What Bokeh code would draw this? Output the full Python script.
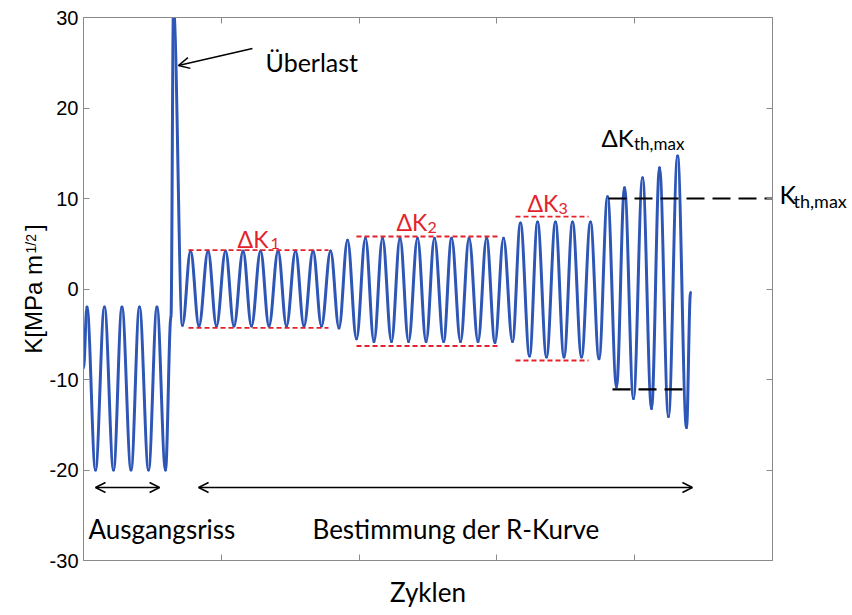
import math
from bokeh.plotting import figure
from bokeh.models import (Range1d, LinearAxis, FixedTicker, Label, Arrow, OpenHead,
                          ColumnDataSource)
from bokeh.embed import file_html
from bokeh.resources import INLINE

# ---------------- data ----------------
# extrema of the loading signal: x in tick units ("Zyklen"), y = K [MPa m^1/2]
ext_x = [0.000, 0.025, 0.087, 0.152, 0.218, 0.279, 0.345, 0.406, 0.472, 0.533, 0.595,
         0.635, 0.653, 0.718,
         0.777, 0.838, 0.904, 0.965, 1.031, 1.092, 1.158, 1.219, 1.285, 1.346, 1.412,
         1.473, 1.539, 1.600, 1.666, 1.727, 1.793, 1.854,
         1.916, 1.981, 2.046, 2.108, 2.170, 2.235, 2.297, 2.359, 2.424, 2.486, 2.547,
         2.613, 2.671, 2.736, 2.798, 2.863, 2.925, 2.986, 3.048, 3.113,
         3.171, 3.237, 3.295, 3.360, 3.425, 3.487, 3.549, 3.614, 3.679, 3.741,
         3.803, 3.868, 3.926, 3.991, 4.057, 4.122, 4.180, 4.245, 4.311, 4.376, 4.405]
ext_y = [-8.8, -2.0, -20.0, -2.0, -20.0, -2.0, -20.0, -2.0, -20.0, -2.0, -20.0,
         -3.0, 31.0, -4.0,
         4.2, -4.1, 4.2, -4.1, 4.2, -4.1, 4.2, -4.1, 4.2, -4.1, 4.2,
         -4.1, 4.2, -4.1, 4.2, -4.1, 4.2, -4.3,
         5.4, -5.5, 5.6, -5.8, 5.6, -5.8, 5.6, -5.8, 5.6, -5.8, 5.6,
         -5.8, 5.6, -5.8, 5.6, -5.8, 5.6, -5.9, 5.6, -5.8,
         7.3, -7.4, 7.4, -7.5, 7.4, -7.5, 7.4, -7.5, 7.4, -7.7,
         10.2, -10.8, 11.2, -12.1, 12.3, -13.2, 13.4, -14.1, 14.7, -15.3, -0.4]

# ΔK range markers (red dashed)
dk_labels = ["1", "2", "3"]
dk_upper = [4.3, 5.8, 8.0]
dk_lower = [-4.3, -6.3, -7.9]
dk_x0 = [0.762, 1.981, 3.135]
dk_x1 = [1.778, 3.004, 3.665]

# K_th,max markers (black dashed)
kth_upper = 10.0
kth_lower = -11.1
kth_up_x = [3.810, 5.03]
kth_lo_x = [3.839, 4.347]

y_ticks = [-30, -20, -10, 0, 10, 20, 30]
y_tick_labels = ["-30", "-20", "-10", "0", "10", "20", "30"]
x_ticks = [1, 2, 3, 4]

BLUE = "#2d56b6"
RED = "#e3232b"
GRAY = "#8a8a8a"
CAL = "Lato"
ARIAL = "Liberation Sans"

W, H = 852, 615
p = figure(width=W, height=H, x_range=Range1d(0, 5), y_range=Range1d(-30, 30),
           output_backend="svg", toolbar_location=None)
p.min_border_left = 83
p.min_border_right = 80
p.min_border_top = 17
p.min_border_bottom = 55
p.grid.visible = False
p.outline_line_color = GRAY
p.background_fill_color = "white"
p.border_fill_color = "white"

# axes
ya = p.yaxis[0]
ya.ticker = FixedTicker(ticks=y_ticks)
ya.major_label_overrides = {t: l for t, l in zip(y_ticks, y_tick_labels)}
ya.major_label_text_font = ARIAL
ya.major_label_text_font_size = "20px"
ya.major_label_text_color = "black"
ya.major_label_standoff = 5
# room is left (en spaces) for the superscript, drawn as its own label below
ya.axis_label = "K[MPa m\u2002\u2002]"
ya.axis_label_text_font = ARIAL
ya.axis_label_text_font_size = "24px"
ya.axis_label_text_font_style = "normal"
ya.axis_label_text_color = "black"
ya.axis_label_standoff = 0

xa = p.xaxis[0]
xa.ticker = FixedTicker(ticks=x_ticks)
xa.major_label_overrides = {t: "" for t in x_ticks}
xa.major_label_standoff = 0
xa.axis_label = "Zyklen"
xa.axis_label_text_font = CAL
xa.axis_label_text_font_size = "26px"
xa.axis_label_text_font_style = "normal"
xa.axis_label_text_color = "black"
xa.axis_label_standoff = 15

top = LinearAxis(ticker=FixedTicker(ticks=x_ticks), major_label_standoff=0,
                 major_label_overrides={t: "" for t in x_ticks})
right = LinearAxis(ticker=FixedTicker(ticks=y_ticks), major_label_standoff=0,
                   major_label_overrides={t: "" for t in y_ticks})
p.add_layout(top, "above")
p.add_layout(right, "right")
for ax in [xa, ya, top, right]:
    ax.axis_line_color = GRAY
    ax.major_tick_line_color = GRAY
    ax.minor_tick_line_color = None
    ax.major_tick_in = 6
    ax.major_tick_out = 0

# signal as cubic bezier half-waves between extrema
a = 0.3634
x0, y0, x1, y1, cx0, cy0, cx1, cy1 = [], [], [], [], [], [], [], []
for i in range(len(ext_x) - 1):
    xa_, xb_ = ext_x[i], ext_x[i + 1]
    ya_, yb_ = ext_y[i], ext_y[i + 1]
    dx = xb_ - xa_
    x0.append(xa_); y0.append(ya_); x1.append(xb_); y1.append(yb_)
    cx0.append(xa_ + a * dx); cy0.append(ya_)
    cx1.append(xb_ - a * dx); cy1.append(yb_)
src = ColumnDataSource(dict(x0=x0, y0=y0, x1=x1, y1=y1, cx0=cx0, cy0=cy0, cx1=cx1, cy1=cy1))
p.bezier(x0="x0", y0="y0", x1="x1", y1="y1", cx0="cx0", cy0="cy0", cx1="cx1", cy1="cy1",
         source=src, line_color=BLUE, line_width=3, line_cap="round")

# red dashed ΔK levels
p.segment(x0=dk_x0 + dk_x0, y0=dk_upper + dk_lower, x1=dk_x1 + dk_x1, y1=dk_upper + dk_lower,
          line_color=RED, line_width=1.8, line_dash="5 3")

# black dashed K_th,max levels
p.segment(x0=[kth_up_x[0], kth_lo_x[0]], y0=[kth_upper, kth_lower],
          x1=[kth_up_x[1], kth_lo_x[1]], y1=[kth_upper, kth_lower],
          line_color="black", line_width=2.2, line_dash="18 8")


def mk(x, y, text, size, color="black", font=CAL, angle=0.0, align="left", units="data"):
    return Label(x=x, y=y, text=text, text_font=font, text_font_size=size,
                 text_color=color, text_baseline="alphabetic", text_align=align,
                 angle=angle, x_units=units, y_units=units)


def lab(*args, **kw):
    p.add_layout(mk(*args, **kw))


# ΔK labels
dk_pos = [(1.118, 5.58, 1.357, 5.03), (2.271, 7.35, 2.496, 6.80), (3.222, 9.45, 3.447, 8.90)]
for (tx, ty, sx, sy), s in zip(dk_pos, dk_labels):
    lab(tx, ty, "ΔK", "23px", RED)
    lab(sx, sy, s, "16px", RED)

lab(3.759, 16.74, "ΔK", "24px")
lab(3.995, 16.08, "th,max", "17px")

# Überlast
lab(1.321, 25.03, "Überlast", "25px")
p.add_layout(Arrow(x_start=1.226, y_start=26.57, x_end=0.689, y_end=24.70,
                   line_color="black", line_width=1.5,
                   end=OpenHead(size=11, line_width=1.5, line_color="black")))

# bottom arrows and texts
for xs, xe in [(0.087, 0.552), (0.835, 4.419)]:
    p.add_layout(Arrow(x_start=xs, y_start=-21.93, x_end=xe, y_end=-21.93,
                       line_color="black", line_width=1.5,
                       start=OpenHead(size=10, line_width=1.5, line_color="black"),
                       end=OpenHead(size=10, line_width=1.5, line_color="black")))
lab(0.036, -26.57, "Ausgangsriss", "26px")
lab(1.662, -26.57, "Bestimmung der R-Kurve", "26px")

# K_th,max label beside the frame (in the right side panel, canvas units)
p.add_layout(mk(779, 193, "K", "25px", units="canvas"), "right")
p.add_layout(mk(793, 200, "th,max", "18px", units="canvas"), "right")

# superscript of the y axis title (left side panel, canvas units)
p.add_layout(mk(30, 253, "1/2", "14px", font=ARIAL, angle=math.pi / 2, units="canvas"), "left")

open("out.html", "w").write(file_html(p, INLINE))
